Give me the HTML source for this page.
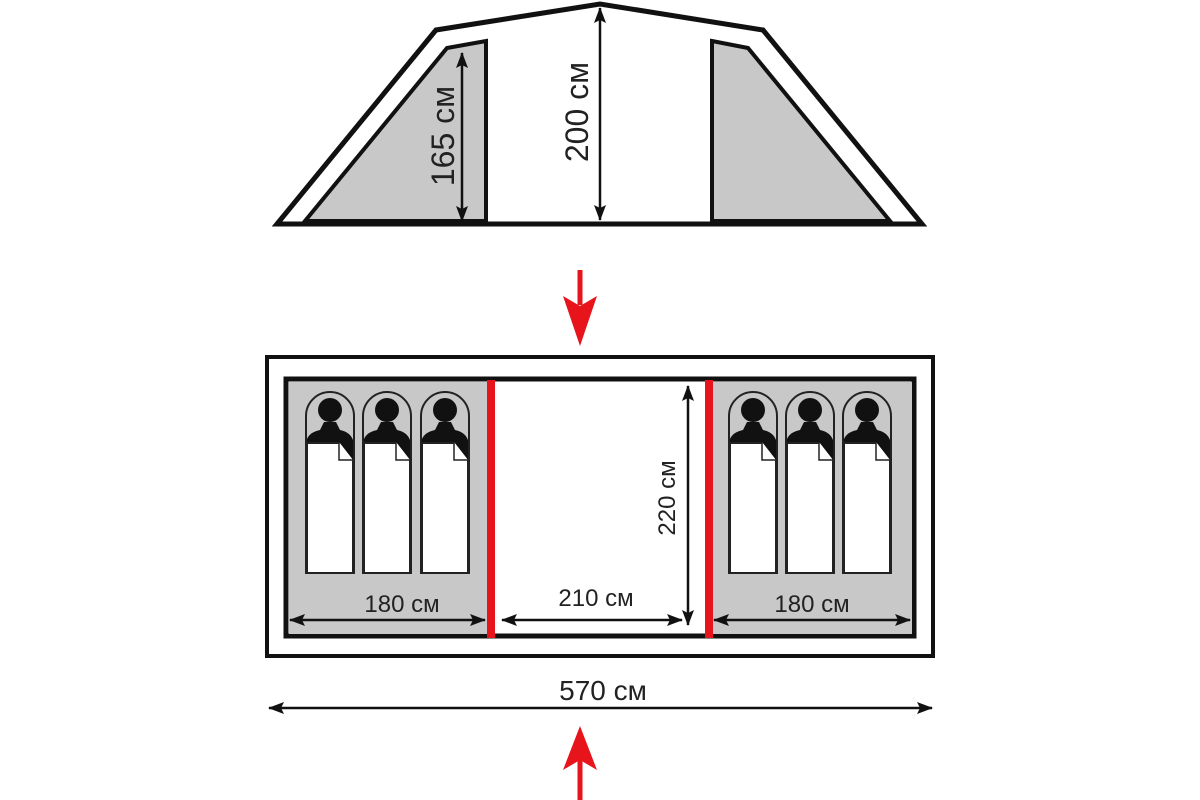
<!DOCTYPE html>
<html><head><meta charset="utf-8"><style>html,body{margin:0;padding:0;background:#fff;width:1200px;height:800px;overflow:hidden}</style></head>
<body>
<svg width="1200" height="800" viewBox="0 0 1200 800" xmlns="http://www.w3.org/2000/svg" font-family="Liberation Sans, Arial, sans-serif">
<defs>
<marker id="ah" viewBox="0 0 16 12" refX="15" refY="6" markerWidth="16" markerHeight="12" orient="auto-start-reverse" markerUnits="userSpaceOnUse">
<path d="M0,0 L16,6 L0,12 L3,6 Z" fill="#111"/></marker>
<g id="bag">
<path d="M0,181 V24 A24,24 0 0 1 48,24 V181 Z" fill="#c8c8c8" stroke="#222" stroke-width="2"/>
<circle cx="24" cy="18" r="12" fill="#111"/>
<path d="M1,52 L1,47 Q4,40 14,38 L18,30 L30,30 L34,38 Q44,40 47,48 L47,68 L1,68 Z" fill="#111"/>
<rect x="1" y="51" width="46" height="130" fill="#fff" stroke="#222" stroke-width="2"/>
<path d="M33,50 L47,50 L47,68 Z" fill="#111"/>
<path d="M33,50 L33,68 L47,68" fill="#fff" stroke="#222" stroke-width="1.5"/>
</g>
</defs>

<polygon points="277,224 436,30 600,4 763,30 922,224" fill="#fff" stroke="#111" stroke-width="5"/>
<polygon points="305,221 447,48 486,41 486,221" fill="#c8c8c8" stroke="#111" stroke-width="4"/>
<polygon points="712,41 748,48 890,221 712,221" fill="#c8c8c8" stroke="#111" stroke-width="4"/>
<line x1="277" y1="224" x2="922" y2="224" stroke="#111" stroke-width="5"/>
<line x1="462" y1="53" x2="462" y2="221" stroke="#111" stroke-width="2.5" marker-start="url(#ah)" marker-end="url(#ah)"/>
<line x1="600" y1="8" x2="600" y2="220" stroke="#111" stroke-width="2.5" marker-start="url(#ah)" marker-end="url(#ah)"/>
<text transform="translate(454,136) rotate(-90)" text-anchor="middle" font-size="32" fill="#222">165 см</text>
<text transform="translate(588,112) rotate(-90)" text-anchor="middle" font-size="32" fill="#222">200 см</text>

<line x1="580" y1="270" x2="580" y2="305" stroke="#e8141c" stroke-width="5"/>
<polygon points="563,296 580,306 597,296 580,346" fill="#e8141c"/>

<rect x="267" y="357" width="666" height="299" fill="#fff" stroke="#111" stroke-width="4"/>
<rect x="286" y="379" width="628" height="257" fill="#fff" stroke="#111" stroke-width="5"/>
<rect x="289" y="382" width="198" height="252" fill="#c8c8c8"/>
<rect x="712" y="382" width="200" height="252" fill="#c8c8c8"/>
<rect x="487" y="380" width="8" height="258" fill="#e8141c"/>
<rect x="705" y="380" width="8" height="258" fill="#e8141c"/>

<use href="#bag" x="306" y="392"/>
<use href="#bag" x="363" y="392"/>
<use href="#bag" x="421" y="392"/>
<use href="#bag" x="729" y="392"/>
<use href="#bag" x="786" y="392"/>
<use href="#bag" x="843" y="392"/>

<line x1="290" y1="620" x2="485" y2="620" stroke="#111" stroke-width="2.5" marker-start="url(#ah)" marker-end="url(#ah)"/>
<text x="402" y="612" text-anchor="middle" font-size="24" fill="#222">180 см</text>
<line x1="502" y1="620" x2="682" y2="620" stroke="#111" stroke-width="2.5" marker-start="url(#ah)" marker-end="url(#ah)"/>
<text x="596" y="606" text-anchor="middle" font-size="24" fill="#222">210 см</text>
<line x1="714" y1="620" x2="910" y2="620" stroke="#111" stroke-width="2.5" marker-start="url(#ah)" marker-end="url(#ah)"/>
<text x="812" y="612" text-anchor="middle" font-size="24" fill="#222">180 см</text>
<line x1="688" y1="386" x2="688" y2="625" stroke="#111" stroke-width="2.5" marker-start="url(#ah)" marker-end="url(#ah)"/>
<text transform="translate(675,498) rotate(-90)" text-anchor="middle" font-size="24" fill="#222">220 см</text>

<line x1="269" y1="708" x2="932" y2="708" stroke="#111" stroke-width="2.5" marker-start="url(#ah)" marker-end="url(#ah)"/>
<text x="603" y="700" text-anchor="middle" font-size="28" fill="#222">570 см</text>

<polygon points="580,726 597,770 580,760 563,770" fill="#e8141c"/>
<line x1="580" y1="760" x2="580" y2="800" stroke="#e8141c" stroke-width="5"/>
</svg>
</body></html>
